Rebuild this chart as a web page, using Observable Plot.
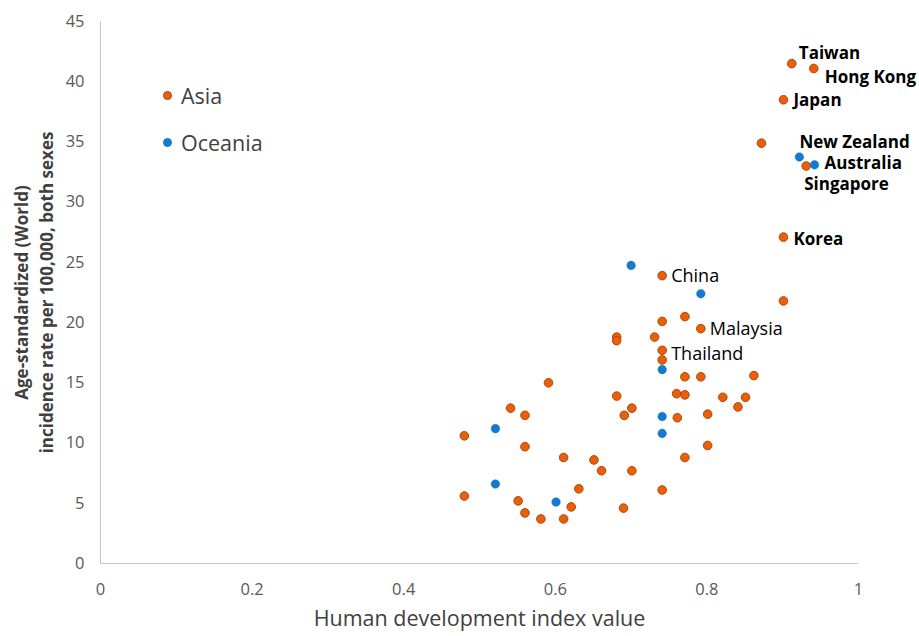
<!DOCTYPE html>
<html>
<head>
<meta charset="utf-8">
<script src="https://cdn.jsdelivr.net/npm/d3@7"></script>
<script src="https://cdn.jsdelivr.net/npm/@observablehq/plot@0.6"></script>
<style>
  html, body { margin: 0; padding: 0; background: #fff; }
  #wrap { position: relative; width: 919px; height: 636px; font-family: "Open Sans", sans-serif; }
  #legend { position: absolute; left: 163px; top: 81px; font-size: 21.5px; color: #404040; }
  #legend .item { display: flex; align-items: center; height: 29px; margin-bottom: 18px; }
  #legend .sw { width: 9px; height: 9px; border-radius: 50%; margin-right: 9px; box-sizing: border-box; }
</style>
</head>
<body>
<div id="wrap">
  <div id="chart"></div>
  <div id="legend"></div>
</div>
<script>
// ---- Data ----
const seriesNames = ["Asia", "Oceania"];
const asiaX = [0.912, 0.941, 0.901, 0.872, 0.931, 0.901, 0.901, 0.741, 0.741, 0.771,
               0.792, 0.681, 0.681, 0.731, 0.741, 0.741, 0.771, 0.792, 0.862, 0.591,
               0.681, 0.760, 0.771, 0.821, 0.851, 0.841, 0.701, 0.691, 0.541, 0.560,
               0.761, 0.801, 0.480, 0.560, 0.801, 0.611, 0.651, 0.661, 0.701, 0.771,
               0.631, 0.741, 0.480, 0.551, 0.621, 0.560, 0.581, 0.611, 0.690];
const asiaY = [41.5, 41.1, 38.5, 34.9, 33.0, 27.1, 21.8, 23.9, 20.1, 20.5,
               19.5, 18.8, 18.5, 18.8, 17.7, 16.9, 15.5, 15.5, 15.6, 15.0,
               13.9, 14.1, 14.0, 13.8, 13.8, 13.0, 12.9, 12.3, 12.9, 12.3,
               12.1, 12.4, 10.6, 9.7, 9.8, 8.8, 8.6, 7.7, 7.7, 8.8,
               6.2, 6.1, 5.6, 5.2, 4.7, 4.2, 3.7, 3.7, 4.6];
const oceaniaX = [0.922, 0.942, 0.700, 0.792, 0.741, 0.741, 0.741, 0.521, 0.521, 0.601];
const oceaniaY = [33.75, 33.1, 24.75, 22.4, 16.1, 12.2, 10.8, 11.2, 6.6, 5.1];
const labelNames = ["Taiwan", "Hong Kong", "Japan", "New Zealand", "Australia", "Singapore", "Korea", "China", "Malaysia", "Thailand"];
const labelX = [0.912, 0.941, 0.901, 0.922, 0.942, 0.931, 0.901, 0.741, 0.792, 0.741];
const labelY = [41.5, 41.1, 38.5, 33.75, 33.1, 33.0, 27.1, 23.9, 19.5, 17.7];
const boldLabels = ["Taiwan", "Hong Kong", "Japan", "New Zealand", "Australia", "Singapore", "Korea"];
const xTicks = [0, 0.2, 0.4, 0.6, 0.8, 1];
const yTicks = [0, 5, 10, 15, 20, 25, 30, 35, 40, 45];
const xTitle = "Human development index value";
const yTitle = "Age-standardized (World)\nincidence rate per 100,000, both sexes";

// ---- Build ----
const asia = asiaX.map((x, i) => ({x, y: asiaY[i]}));
const oceania = oceaniaX.map((x, i) => ({x, y: oceaniaY[i]}));
const labels = labelNames.map((name, i) => ({name, x: labelX[i], y: labelY[i]}));

const ORANGE = "#E8600C", ORANGE_S = "#B84300", BLUE = "#1479CF";
const labelOffsets = {
  "Taiwan": [7, -10], "Hong Kong": [11, 9], "Japan": [10, 1], "New Zealand": [0, -14],
  "Australia": [10, -1], "Singapore": [-2, 19], "Korea": [10, 2],
  "China": [9, 1], "Malaysia": [9, 1], "Thailand": [9, 4]
};

const labelMarks = labels.map(d => {
  const bold = boldLabels.includes(d.name);
  const [dx, dy] = labelOffsets[d.name];
  return Plot.text([d], {
    x: "x", y: "y", text: "name", textAnchor: "start", dx, dy,
    fontSize: bold ? 17 : 18, fontWeight: bold ? "bold" : "normal", fill: "#000"
  });
});

const chart = Plot.plot({
  width: 919,
  height: 636,
  marginLeft: 100,
  marginRight: 61,
  marginTop: 21,
  marginBottom: 73,
  style: { fontFamily: "'Open Sans', sans-serif", background: "#fff", overflow: "visible" },
  x: { domain: [0, 1], label: null },
  y: { domain: [0, 45], label: null },
  marks: [
    Plot.axisX({ticks: xTicks, tickSize: 0, tickPadding: 20, fontSize: 16.5, color: "#595959", tickFormat: d => String(d), label: null}),
    Plot.axisY({ticks: yTicks, tickSize: 0, tickPadding: 16, fontSize: 16.5, color: "#595959", label: null}),
    Plot.ruleX([0], {stroke: "#c8c8c8", strokeWidth: 1}),
    Plot.ruleY([0], {stroke: "#c8c8c8", strokeWidth: 1}),
    Plot.dot(asia, {x: "x", y: "y", r: 4.3, fill: ORANGE, stroke: ORANGE_S, strokeWidth: 1}),
    Plot.dot(oceania, {x: "x", y: "y", r: 4.3, fill: BLUE, stroke: BLUE, strokeWidth: 0.5}),
    ...labelMarks,
    Plot.text([xTitle], {frameAnchor: "bottom", dy: 62, fontSize: 21.5, fill: "#404040"}),
    Plot.text([yTitle], {frameAnchor: "left", textAnchor: "middle", rotate: -90, dx: -68, fontSize: 17, fontWeight: "bold", fill: "#404040", lineHeight: 1.5})
  ]
});
document.getElementById("chart").appendChild(chart);

// Legend
const legend = document.getElementById("legend");
const legendColors = [[ORANGE, ORANGE_S], [BLUE, BLUE]];
seriesNames.forEach((name, i) => {
  const item = document.createElement("div");
  item.className = "item";
  const sw = document.createElement("span");
  sw.className = "sw";
  sw.style.background = legendColors[i][0];
  sw.style.border = "1px solid " + legendColors[i][1];
  const t = document.createElement("span");
  t.textContent = name;
  item.appendChild(sw);
  item.appendChild(t);
  legend.appendChild(item);
});
</script>
</body>
</html>
